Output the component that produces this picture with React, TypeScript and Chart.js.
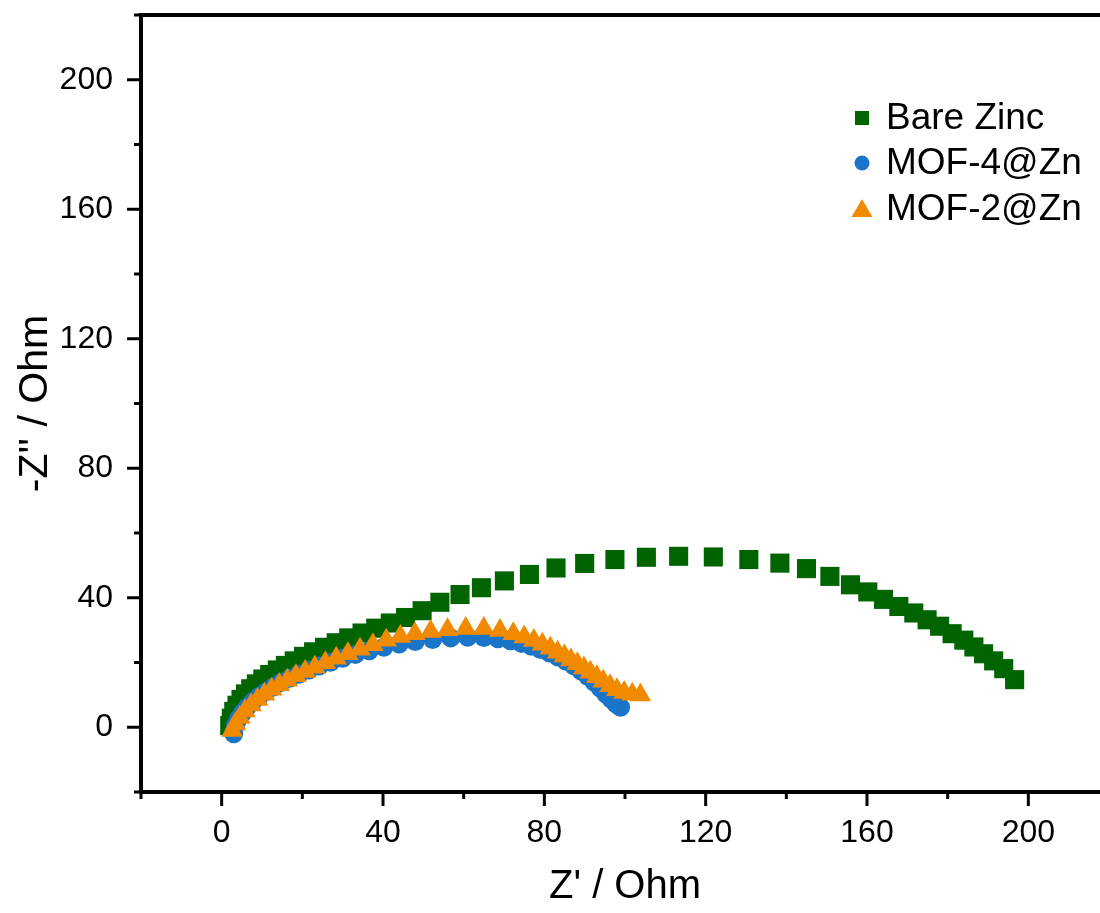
import React, { useEffect, useRef } from 'react';
import { Chart, registerables } from 'chart.js';

Chart.register(...registerables);

// ---- Data ----
const bareZincX = [2.0, 2.4, 3.0, 3.8, 4.8, 5.9, 7.2, 8.6, 10.2, 11.9, 13.8, 15.8, 18.0, 20.3, 22.8, 25.5, 28.4, 31.5, 34.8, 38.2, 41.8, 45.6, 49.7, 54.1, 59.1, 64.4, 70.1, 76.3, 82.9, 90.0, 97.5, 105.3, 113.3, 121.9, 130.7, 138.4, 145.0, 150.8, 155.9, 160.2, 164.1, 167.9, 171.6, 174.9, 178.0, 181.1, 184.0, 186.5, 188.9, 191.4, 193.9, 196.6];
const bareZincY = [0.5, 2.8, 4.9, 6.8, 8.6, 10.3, 11.9, 13.4, 14.9, 16.3, 17.7, 19.1, 20.5, 21.9, 23.3, 24.7, 26.1, 27.6, 29.1, 30.6, 32.2, 33.9, 36.0, 38.6, 41.0, 43.1, 45.2, 47.2, 49.2, 50.6, 51.8, 52.5, 52.8, 52.6, 51.8, 50.7, 49.0, 46.6, 44.0, 41.8, 39.5, 37.3, 35.3, 33.2, 31.2, 28.9, 26.9, 24.8, 22.7, 20.5, 18.1, 14.7];

const mof4X = [3.0, 3.4, 4.2, 5.2, 6.4, 7.8, 9.3, 11.0, 12.8, 14.8, 16.9, 19.2, 21.6, 24.2, 27.0, 30.0, 33.2, 36.6, 40.2, 44.0, 48.0, 52.3, 56.8, 61.0, 65.0, 68.5, 71.6, 74.3, 76.8, 79.1, 81.3, 83.4, 85.4, 87.3, 89.1, 90.8, 92.4, 93.9, 95.3, 96.6, 97.8, 98.9];
const mof4Y = [-2.0, 0.5, 2.6, 4.5, 6.3, 8.0, 9.5, 11.0, 12.4, 13.8, 15.1, 16.4, 17.7, 18.9, 20.1, 21.3, 22.5, 23.6, 24.7, 25.7, 26.5, 27.1, 27.6, 27.8, 27.7, 27.3, 26.7, 25.9, 25.0, 24.0, 22.9, 21.7, 20.4, 19.0, 17.4, 15.7, 13.9, 12.0, 10.2, 8.6, 7.2, 6.2];

const mof2X = [2.6, 3.4, 4.5, 5.8, 7.3, 8.9, 10.6, 12.4, 14.3, 16.3, 18.4, 20.7, 23.1, 25.7, 28.4, 31.3, 34.3, 37.5, 40.8, 44.3, 47.9, 51.8, 56.0, 60.5, 65.0, 69.0, 72.3, 75.0, 77.4, 79.5, 81.5, 83.3, 85.0, 86.6, 88.2, 89.8, 91.4, 93.0, 94.6, 96.3, 98.0, 99.8, 101.8, 103.8];
const mof2Y = [-1.0, 1.0, 3.0, 5.0, 6.9, 8.6, 10.2, 11.7, 13.1, 14.5, 15.9, 17.2, 18.5, 19.9, 21.3, 22.7, 24.1, 25.5, 26.9, 28.0, 28.9, 29.6, 30.1, 30.5, 30.5, 29.9, 28.9, 27.9, 26.8, 25.6, 24.4, 23.2, 22.0, 20.8, 19.6, 18.3, 17.0, 15.6, 14.2, 12.8, 11.6, 10.7, 10.2, 10.0];

const seriesLabels = ['Bare Zinc', 'MOF-4@Zn', 'MOF-2@Zn'];
const seriesColors = ['#006400', '#1a75c8', '#f28a00'];
const xTickLabels = [0, 40, 80, 120, 160, 200];
const yTickLabels = [0, 40, 80, 120, 160, 200];
const axisMin = -20;
const axisMax = 220;
const minorStep = 20;

const FONT = '"Liberation Sans", Arial, sans-serif';
const W = 1130;
const H = 913;

const toPoints = (xs: number[], ys: number[]) => xs.map((x, i) => ({ x, y: ys[i] }));

const framePlugin = {
  id: 'frameTicksLegend',
  afterDraw(chart: any) {
    const { ctx, chartArea: a, scales } = chart;
    ctx.save();
    ctx.strokeStyle = '#000';
    ctx.lineWidth = 4;
    ctx.strokeRect(a.left, a.top, a.right - a.left, a.bottom - a.top);
    ctx.lineWidth = 3;
    ctx.lineCap = 'butt';
    for (const t of scales.x.ticks) {
      const px = scales.x.getPixelForValue(t.value);
      const major = xTickLabels.includes(t.value);
      const len = major ? 14 : 7;
      ctx.beginPath();
      ctx.moveTo(px, a.bottom);
      ctx.lineTo(px, a.bottom + len);
      ctx.stroke();
    }
    for (const t of scales.y.ticks) {
      const py = scales.y.getPixelForValue(t.value);
      const major = yTickLabels.includes(t.value);
      const len = major ? 14 : 7;
      ctx.beginPath();
      ctx.moveTo(a.left, py);
      ctx.lineTo(a.left - len, py);
      ctx.stroke();
    }
    // legend
    const lx = 862;
    const rows = [118, 163, 209];
    ctx.font = `37px ${FONT}`;
    ctx.textBaseline = 'middle';
    ctx.textAlign = 'left';
    chart.data.datasets.forEach((ds: any, i: number) => {
      const y = rows[i];
      ctx.fillStyle = ds.backgroundColor;
      ctx.beginPath();
      if (ds.pointStyle === 'rect') {
        ctx.rect(lx - 7, y - 7, 14, 14);
      } else if (ds.pointStyle === 'circle') {
        ctx.arc(lx, y, 7.5, 0, Math.PI * 2);
      } else {
        ctx.moveTo(lx, y - 10);
        ctx.lineTo(lx + 10.5, y + 8);
        ctx.lineTo(lx - 10.5, y + 8);
        ctx.closePath();
      }
      ctx.fill();
      ctx.fillStyle = '#000';
      ctx.fillText(ds.label, 886, y + 1);
    });
    ctx.restore();
  },
};

export default function App() {
  const ref = useRef<HTMLCanvasElement | null>(null);

  useEffect(() => {
    if (!ref.current) return;
    const chart = new Chart(ref.current, {
      type: 'scatter',
      data: {
        datasets: [
          {
            label: seriesLabels[0],
            data: toPoints(bareZincX, bareZincY),
            pointStyle: 'rect',
            pointRadius: 13.5,
            backgroundColor: seriesColors[0],
            borderColor: seriesColors[0],
            borderWidth: 0,
            order: 2,
          },
          {
            label: seriesLabels[1],
            data: toPoints(mof4X, mof4Y),
            pointStyle: 'circle',
            pointRadius: 9.5,
            backgroundColor: seriesColors[1],
            borderColor: seriesColors[1],
            borderWidth: 0,
            order: 1,
          },
          {
            label: seriesLabels[2],
            data: toPoints(mof2X, mof2Y),
            pointStyle: 'triangle',
            pointRadius: 12.5,
            backgroundColor: seriesColors[2],
            borderColor: seriesColors[2],
            borderWidth: 0,
            order: 0,
          },
        ],
      },
      options: {
        animation: false,
        responsive: false,
        maintainAspectRatio: false,
        devicePixelRatio: 1,
        layout: { padding: { left: 0, top: 15, right: W - 1109, bottom: 0 } },
        plugins: { legend: { display: false }, tooltip: { enabled: false } },
        scales: {
          x: {
            type: 'linear',
            position: 'bottom',
            min: axisMin,
            max: axisMax,
            afterFit: (s: any) => { s.height = H - 792; s.paddingLeft = 0; s.paddingRight = 0; },
            grid: { display: false, drawTicks: false },
            border: { display: false },
            ticks: {
              stepSize: minorStep,
              autoSkip: false,
              maxRotation: 0,
              padding: 22,
              color: '#000',
              font: { size: 32, family: FONT },
              callback: (v: any) => (xTickLabels.includes(Number(v)) ? String(v) : ''),
            },
            title: {
              display: true,
              text: "Z' / Ohm",
              color: '#000',
              font: { size: 40, family: FONT, lineHeight: 1.2 },
              padding: { top: 0, bottom: 2 },
            },
          },
          y: {
            type: 'linear',
            position: 'left',
            min: axisMin,
            max: axisMax,
            afterFit: (s: any) => { s.width = 141; s.paddingTop = 0; s.paddingBottom = 0; },
            grid: { display: false, drawTicks: false },
            border: { display: false },
            ticks: {
              stepSize: minorStep,
              autoSkip: false,
              padding: 28,
              color: '#000',
              font: { size: 32, family: FONT },
              callback: (v: any) => (yTickLabels.includes(Number(v)) ? String(v) : ''),
            },
            title: {
              display: true,
              text: "-Z'' / Ohm",
              color: '#000',
              font: { size: 41, family: FONT, lineHeight: 1.2 },
              padding: { top: 11, bottom: 0 },
            },
          },
        },
      },
      plugins: [framePlugin],
    } as any);
    return () => chart.destroy();
  }, []);

  return (
    <div style={{ position: 'fixed', left: 0, top: 0, width: 1100, height: 913, overflow: 'hidden', background: '#fff' }}>
      <canvas ref={ref} width={W} height={H} style={{ display: 'block', width: W, height: H }} />
    </div>
  );
}
